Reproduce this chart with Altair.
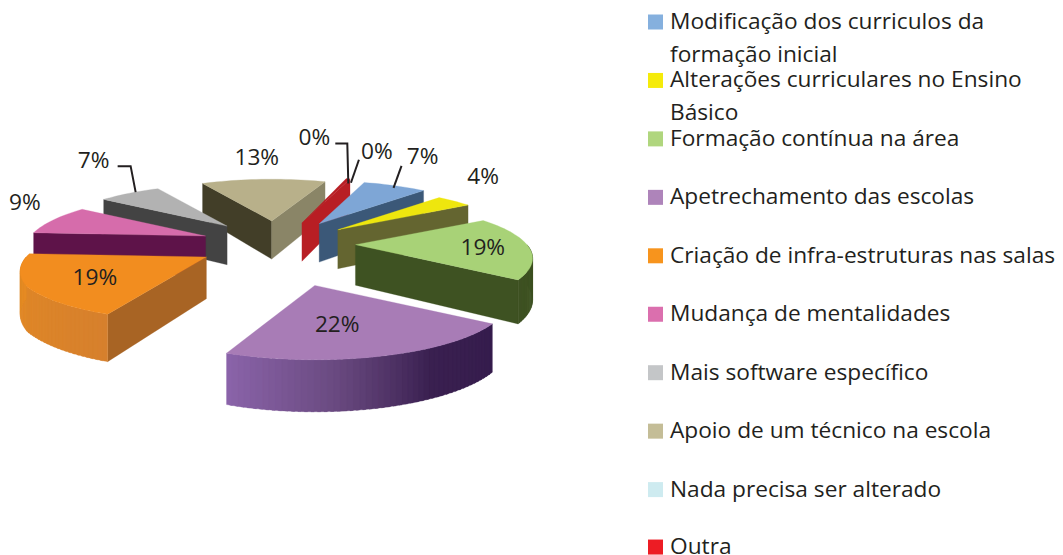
import math
import altair as alt
import pandas as pd

# ---- data
categories = ["Modificação dos curriculos da", "Alterações curriculares no Ensino", "Formação contínua na área",
              "Apetrechamento das escolas", "Criação de infra-estruturas nas salas", "Mudança de mentalidades",
              "Mais software específico", "Apoio de um técnico na escola", "Nada precisa ser alterado", "Outra"]
second_lines = ["formação inicial", "Básico", "", "", "", "", "", "", "", ""]
values = [7, 4, 19, 22, 19, 9, 7, 12.6, 0, 0.4]
pct_labels = ["7%", "4%", "19%", "22%", "19%", "9%", "7%", "13%", "0%", "0%"]
legend_colors = ["#85B0DE", "#F5EB0A", "#B0D67E", "#AE84BA", "#F7941D", "#DB6FAE", "#C4C6C8", "#C4BD97", "#CEEBF0", "#ED1C24"]

# ---- style and pseudo-3D geometry
top_colors = ["#7EA6D6", "#EEE60E", "#A8D277", "#A87CB6", "#F28D1F", "#D66CAB", "#B2B2B2", "#B8B08A", "#CEEBF0", "#B81E24"]
face_start = ["#3B5878", "#646530", "#3E5222", "#351C4D", "#A86424", "#5E1349", "#434343", "#423E28", "#CEEBF0", "#B81E24"]
face_end = ["#3B5878", "#646530", "#3E5222", "#8B64AA", "#E68C23", "#5E1349", "#434343", "#8A8567", "#CEEBF0", "#B81E24"]
wall_stops = {2: ["#3E5222", "#3E5222"], 3: ["#351C4D", "#3A2050", "#6B4B82", "#8B64AA"], 4: ["#D6802D", "#E68C23"]}
explode = [0.5, 0.46, 0.43, 0.67, 0.46, 0.47, 0.5, 0.5, 0.47, 0.47]
scale_start = [1.03, 1, 0.98, 1.07, 0.96, 1, 1, 1, 1, 1.1]
scale_end = [1.03, 1, 0.98, 1.07, 1.03, 1, 1, 1, 1, 1.1]
start_trim = [0, 0, 0, 0, 2, 0, 0, 0, 0, 0]
end_trim = [0, 0, 0, 4, 0, 0, 0, -5.5, 0, 0]
apex_nudge = [(-1, 0), (0, 0), (0, 0), (0, 1), (0, 0), (0, 0), (0, 0), (0, 0), (0, 0), (0, 0)]
draw_order = [7, 6, 5, 4, 9, 0, 1, 2, 3]
label_nudge = [(30, -30), (29, -24), (-49, 2), (-35, -27), (61, -9), (-29, -17), (-36, -32), (0, -21), (-27, -45), (33, -31)]
leaders = {0: [(9, -21), (1, 1)], 6: [(-12, -27), (1, -27), (6, -1)], 8: [(-6, -39), (6, -39), (7, 1)], 9: [(15, -23), (7, 0)]}
CX, CY, R, K, P, START = 280, 244, 175, 0.298, 0.25, 18
W, H, M = 1047, 547, 8
FONT, FS = "Open Sans", 22.7
INK = "#231F20"


def vec(phi, s=1.0):
    a = math.radians(phi)
    den = 1 + P * math.cos(a)
    return s * R * math.sin(a) / den, -s * K * R * math.cos(a) / den


def depth(y):
    return 40 + (y - 240) * 0.1


def mix(stops, t):
    t = t * (len(stops) - 1)
    i = min(int(t), len(stops) - 2)
    f = t - i
    a, b = stops[i], stops[i + 1]
    return "#" + "".join("%02X" % round(int(a[j:j + 2], 16) * (1 - f) + int(b[j:j + 2], 16) * f) for j in (1, 3, 5))


def poly(points, colour):
    pts = [[float(x), float(y)] for x, y in points]
    pts.append(pts[0])
    return {"type": "Feature", "geometry": {"type": "Polygon", "coordinates": [pts]}, "properties": {"fill": colour}}


spans, cum = [], START
for v in values:
    spans.append((cum, cum + v * 3.6))
    cum += v * 3.6

apex, rim_mid = [], []
for i, (a0, a1) in enumerate(spans):
    mid = (a0 + a1) / 2
    vx, vy = vec(mid, explode[i])
    den = 1 + P * math.cos(math.radians(mid)) * explode[i]
    base = 1 + P * math.cos(math.radians(mid))
    ap = (CX + vx * base / den + apex_nudge[i][0], CY + vy * base / den + apex_nudge[i][1])
    apex.append(ap)
    mx, my = vec(mid)
    rim_mid.append((ap[0] + mx, ap[1] + my))

features = [poly([(M, M), (M + W, M), (M + W, M + H), (M, M + H)], "transparent")]
for i in draw_order:
    a0, a1 = spans[i]
    a0 += start_trim[i]
    a1 -= end_trim[i]
    ap = apex[i]

    def rim(phi, a0=a0, a1=a1, i=i, ap=ap):
        t = (phi - a0) / (a1 - a0) if a1 > a0 else 0
        s = scale_start[i] + (scale_end[i] - scale_start[i]) * min(1.0, t * 2)
        v = vec(phi, s)
        return ap[0] + v[0], ap[1] + v[1]

    down = lambda p: (p[0], p[1] + depth(p[1]))
    if math.sin(math.radians(a0)) < 0:
        q = rim(a0)
        features.append(poly([ap, q, down(q), down(ap)], face_start[i]))
    if math.sin(math.radians(a1)) > 0:
        q = rim(a1)
        features.append(poly([ap, q, down(q), down(ap)], face_end[i]))
    w0, w1 = max(a0, 90), min(a1, 270)
    if w1 > w0:
        n = max(2, int((w1 - w0) / 1.5))
        stops = wall_stops.get(i, [face_start[i], face_start[i]])
        for j in range(n):
            p0 = w0 + (w1 - w0) * j / n
            p1 = w1 if j == n - 1 else w0 + (w1 - w0) * (j + 1.5) / n
            pts = [rim(p0 + (p1 - p0) * u / 4) for u in range(5)]
            features.append(poly(pts + [down(q) for q in reversed(pts)], mix(stops, (j + 0.5) / n)))
    steps = max(2, int((a1 - a0) / 2))
    features.append(poly([ap] + [rim(a0 + (a1 - a0) * j / steps) for j in range(steps + 1)], top_colors[i]))

x_enc = alt.X("x:Q", axis=None, scale=alt.Scale(domain=[M, M + W]))
y_enc = alt.Y("y:Q", axis=None, scale=alt.Scale(domain=[M + H, M]))

pie = alt.Chart(alt.Data(values=features)).mark_geoshape(strokeWidth=0.3).encode(
    fill=alt.Fill("properties.fill:N", scale=None),
    stroke=alt.Stroke("properties.fill:N", scale=None),
).project(type="identity")

labels_df = pd.DataFrame({
    "x": [rim_mid[i][0] + label_nudge[i][0] for i in range(len(values))],
    "y": [rim_mid[i][1] + label_nudge[i][1] for i in range(len(values))],
    "t": pct_labels,
})
pct = alt.Chart(labels_df).mark_text(font=FONT, fontSize=FS, color=INK, align="center", baseline="middle").encode(
    x=x_enc, y=y_enc, text="t:N")

leader_rows = []
for i, pts in leaders.items():
    for k, (dx, dy) in enumerate(pts):
        leader_rows.append({"x": rim_mid[i][0] + dx, "y": rim_mid[i][1] + dy, "id": i, "k": k})
lead = alt.Chart(pd.DataFrame(leader_rows)).mark_line(color=INK, strokeWidth=2).encode(
    x=x_enc, y=y_enc, detail="id:N", order="k:Q")

ROW0, ROWSTEP, LINESTEP, SQX, TXTX, LAST_UP = 22, 58.45, 33, 655.5, 670, 1
rows = [ROW0 + ROWSTEP * i for i in range(len(categories))]
rows[-1] -= LAST_UP
leg_df = pd.DataFrame({"x": [SQX] * len(categories), "y": rows, "c": legend_colors, "cat": categories})
squares = alt.Chart(leg_df).mark_square(size=225, opacity=1, strokeWidth=0).encode(
    x=x_enc, y=y_enc, fill=alt.Fill("c:N", scale=None), tooltip="cat:N")
txt_rows = []
for i, (a, b) in enumerate(zip(categories, second_lines)):
    txt_rows.append({"x": TXTX, "y": rows[i], "t": a})
    if b:
        txt_rows.append({"x": TXTX, "y": rows[i] + LINESTEP, "t": b})
leg_txt = alt.Chart(pd.DataFrame(txt_rows)).mark_text(font=FONT, fontSize=FS, color=INK, align="left", baseline="middle").encode(
    x=x_enc, y=y_enc, text="t:N")

chart = alt.layer(pie, lead, pct, squares, leg_txt).properties(
    width=W, height=H, padding=0, autosize=alt.AutoSizeParams(type="none"), background="white"
).configure_view(stroke=None)
chart.save("out.html", embed_options={"renderer": "svg", "actions": False})
